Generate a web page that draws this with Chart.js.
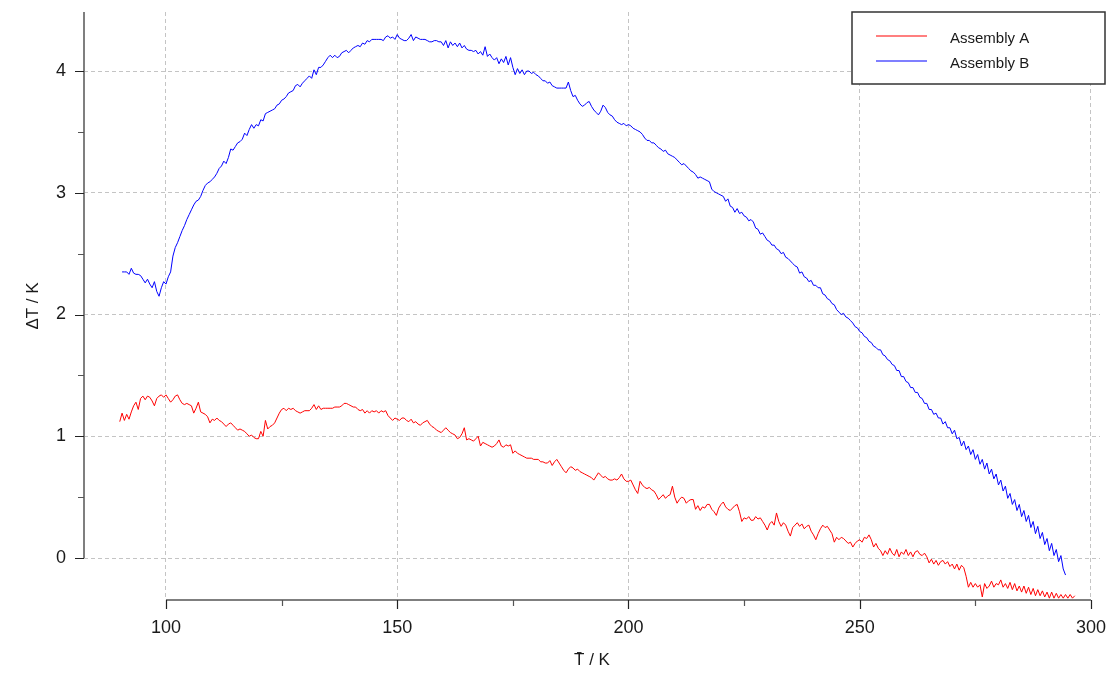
<!DOCTYPE html>
<html>
<head>
<meta charset="utf-8">
<script src="https://cdn.jsdelivr.net/npm/chart.js@4.4.1/dist/chart.umd.min.js"></script>
<style>
  html, body { margin: 0; padding: 0; background: #fff; }
  #wrap { width: 1112px; height: 678px; }
</style>
</head>
<body>
<div id="wrap"><canvas id="dtChart" width="1112" height="678"></canvas></div>
<script>
// series names + colours
const seriesNames = ['Assembly A', 'Assembly B'];
const seriesColors = ['#ff0000', '#0000ff'];

// mean temperature (K) of the first sample in each series, sample spacing 0.5 K
const tempStartA = 90;
const tempStartB = 90.5;
const tempStep = 0.5;

// ΔT (K) of Assembly A
const deltaA = [
  1.12, 1.19, 1.13, 1.18, 1.14, 1.20, 1.25, 1.28, 1.22, 1.31, // 90
  1.33, 1.30, 1.33, 1.32, 1.29, 1.25, 1.31, 1.33, 1.34, 1.32, // 95
  1.34, 1.31, 1.28, 1.30, 1.33, 1.34, 1.30, 1.27, 1.26, 1.27, // 100
  1.26, 1.25, 1.19, 1.23, 1.28, 1.20, 1.19, 1.18, 1.16, 1.11, // 105
  1.14, 1.13, 1.15, 1.13, 1.12, 1.10, 1.08, 1.10, 1.11, 1.09, // 110
  1.07, 1.05, 1.06, 1.05, 1.04, 1.02, 1.00, 1.01, 0.99, 0.98, // 115
  0.98, 1.04, 1.00, 1.13, 1.06, 1.08, 1.09, 1.11, 1.15, 1.19, // 120
  1.22, 1.23, 1.21, 1.23, 1.22, 1.23, 1.21, 1.20, 1.19, 1.20, // 125
  1.21, 1.21, 1.21, 1.23, 1.26, 1.22, 1.25, 1.22, 1.23, 1.23, // 130
  1.23, 1.23, 1.23, 1.24, 1.24, 1.24, 1.25, 1.27, 1.27, 1.26, // 135
  1.25, 1.24, 1.24, 1.22, 1.21, 1.22, 1.19, 1.21, 1.19, 1.21, // 140
  1.20, 1.21, 1.19, 1.21, 1.20, 1.21, 1.17, 1.15, 1.13, 1.15, // 145
  1.14, 1.13, 1.15, 1.15, 1.13, 1.12, 1.14, 1.11, 1.12, 1.10, // 150
  1.09, 1.11, 1.12, 1.13, 1.10, 1.08, 1.07, 1.05, 1.04, 1.03, // 155
  1.05, 1.07, 1.05, 1.03, 1.02, 1.01, 0.98, 0.99, 1.02, 1.07, // 160
  0.97, 0.98, 0.97, 0.96, 0.98, 1.00, 0.92, 0.95, 0.94, 0.93, // 165
  0.92, 0.91, 0.92, 0.94, 0.97, 0.92, 0.91, 0.93, 0.92, 0.93, // 170
  0.86, 0.88, 0.86, 0.85, 0.84, 0.83, 0.82, 0.82, 0.82, 0.81, // 175
  0.81, 0.81, 0.79, 0.79, 0.78, 0.78, 0.80, 0.76, 0.79, 0.81, // 180
  0.78, 0.75, 0.72, 0.70, 0.73, 0.75, 0.74, 0.72, 0.73, 0.71, // 185
  0.70, 0.69, 0.68, 0.67, 0.66, 0.64, 0.67, 0.70, 0.68, 0.66, // 190
  0.67, 0.65, 0.64, 0.64, 0.65, 0.64, 0.66, 0.69, 0.65, 0.63, // 195
  0.63, 0.64, 0.60, 0.56, 0.53, 0.63, 0.60, 0.58, 0.57, 0.58, // 200
  0.56, 0.55, 0.52, 0.48, 0.50, 0.52, 0.49, 0.51, 0.52, 0.59, // 205
  0.50, 0.45, 0.48, 0.50, 0.49, 0.45, 0.47, 0.48, 0.48, 0.40, // 210
  0.43, 0.39, 0.42, 0.41, 0.44, 0.44, 0.40, 0.38, 0.35, 0.41, // 215
  0.44, 0.46, 0.42, 0.40, 0.39, 0.41, 0.43, 0.44, 0.38, 0.30, // 220
  0.33, 0.32, 0.34, 0.31, 0.31, 0.34, 0.32, 0.33, 0.30, 0.27, // 225
  0.23, 0.28, 0.30, 0.27, 0.37, 0.30, 0.26, 0.29, 0.27, 0.22, // 230
  0.18, 0.25, 0.27, 0.29, 0.26, 0.28, 0.24, 0.26, 0.27, 0.22, // 235
  0.19, 0.15, 0.20, 0.24, 0.27, 0.25, 0.26, 0.23, 0.20, 0.13, // 240
  0.17, 0.15, 0.17, 0.16, 0.14, 0.12, 0.13, 0.09, 0.12, 0.14, // 245
  0.15, 0.13, 0.17, 0.16, 0.19, 0.15, 0.09, 0.12, 0.08, 0.06, // 250
  0.02, 0.06, 0.03, 0.08, 0.04, 0.02, 0.07, 0.01, 0.05, 0.03, // 255
  0.07, 0.02, 0.05, 0.01, 0.05, 0.06, 0.03, 0.02, 0.04, 0.01, // 260
  -0.04, -0.01, -0.05, -0.02, -0.06, -0.03, -0.02, -0.05, -0.03, -0.07, // 265
  -0.05, -0.09, -0.05, -0.10, -0.06, -0.08, -0.15, -0.24, -0.20, -0.24, // 270
  -0.21, -0.24, -0.22, -0.32, -0.21, -0.25, -0.23, -0.19, -0.24, -0.21, // 275
  -0.22, -0.18, -0.24, -0.21, -0.25, -0.20, -0.26, -0.21, -0.27, -0.23, // 280
  -0.28, -0.23, -0.29, -0.24, -0.30, -0.25, -0.31, -0.26, -0.31, -0.27, // 285
  -0.32, -0.28, -0.33, -0.28, -0.33, -0.29, -0.33, -0.30, -0.33, -0.30, // 290
  -0.33, -0.30, -0.33, -0.31 // 295
];

// ΔT (K) of Assembly B
const deltaB = [
  2.35, 2.35, 2.35, 2.33, 2.38, 2.34, 2.33, 2.33, 2.32, 2.29, // 90.5
  2.26, 2.29, 2.25, 2.22, 2.27, 2.19, 2.15, 2.22, 2.27, 2.25, // 95.5
  2.31, 2.35, 2.48, 2.55, 2.59, 2.64, 2.69, 2.73, 2.78, 2.82, // 100.5
  2.86, 2.90, 2.93, 2.94, 2.97, 3.02, 3.06, 3.08, 3.09, 3.11, // 105.5
  3.13, 3.16, 3.20, 3.22, 3.26, 3.24, 3.29, 3.36, 3.35, 3.38, // 110.5
  3.41, 3.42, 3.44, 3.49, 3.47, 3.52, 3.56, 3.53, 3.56, 3.55, // 115.5
  3.60, 3.59, 3.65, 3.66, 3.67, 3.68, 3.69, 3.72, 3.73, 3.76, // 120.5
  3.77, 3.79, 3.82, 3.83, 3.84, 3.88, 3.89, 3.87, 3.90, 3.92, // 125.5
  3.94, 3.96, 3.94, 4.01, 3.97, 4.03, 4.03, 4.05, 4.08, 4.11, // 130.5
  4.13, 4.11, 4.13, 4.11, 4.12, 4.15, 4.16, 4.17, 4.15, 4.17, // 135.5
  4.19, 4.20, 4.21, 4.20, 4.23, 4.22, 4.25, 4.24, 4.26, 4.26, // 140.5
  4.26, 4.26, 4.26, 4.25, 4.28, 4.29, 4.27, 4.28, 4.26, 4.30, // 145.5
  4.27, 4.26, 4.25, 4.25, 4.27, 4.30, 4.25, 4.28, 4.27, 4.26, // 150.5
  4.26, 4.26, 4.25, 4.24, 4.24, 4.25, 4.25, 4.24, 4.24, 4.21, // 155.5
  4.25, 4.19, 4.24, 4.21, 4.23, 4.20, 4.23, 4.19, 4.21, 4.18, // 160.5
  4.17, 4.17, 4.16, 4.17, 4.14, 4.16, 4.13, 4.20, 4.12, 4.14, // 165.5
  4.11, 4.09, 4.11, 4.06, 4.10, 4.07, 4.12, 4.05, 4.11, 4.03, // 170.5
  3.97, 4.02, 3.98, 4.01, 3.97, 4.00, 4.00, 3.98, 3.99, 3.97, // 175.5
  3.96, 3.94, 3.92, 3.92, 3.90, 3.91, 3.88, 3.87, 3.86, 3.86, // 180.5
  3.86, 3.86, 3.86, 3.91, 3.84, 3.79, 3.80, 3.76, 3.73, 3.71, // 185.5
  3.72, 3.74, 3.75, 3.71, 3.68, 3.66, 3.64, 3.67, 3.72, 3.70, // 190.5
  3.66, 3.64, 3.63, 3.60, 3.58, 3.57, 3.56, 3.57, 3.55, 3.56, // 195.5
  3.55, 3.53, 3.52, 3.51, 3.50, 3.48, 3.45, 3.43, 3.43, 3.41, // 200.5
  3.41, 3.39, 3.37, 3.36, 3.34, 3.35, 3.32, 3.31, 3.30, 3.29, // 205.5
  3.27, 3.25, 3.23, 3.24, 3.22, 3.20, 3.18, 3.17, 3.15, 3.12, // 210.5
  3.13, 3.12, 3.11, 3.10, 3.09, 3.03, 3.01, 3.00, 2.99, 2.98, // 215.5
  2.97, 2.93, 2.95, 2.89, 2.88, 2.84, 2.87, 2.83, 2.84, 2.81, // 220.5
  2.80, 2.77, 2.78, 2.76, 2.71, 2.70, 2.66, 2.67, 2.64, 2.61, // 225.5
  2.60, 2.57, 2.57, 2.54, 2.53, 2.50, 2.51, 2.47, 2.46, 2.44, // 230.5
  2.42, 2.40, 2.39, 2.34, 2.35, 2.31, 2.30, 2.27, 2.28, 2.24, // 235.5
  2.24, 2.22, 2.22, 2.17, 2.16, 2.13, 2.12, 2.09, 2.08, 2.04, // 240.5
  2.02, 2.00, 2.01, 1.98, 1.97, 1.95, 1.93, 1.90, 1.89, 1.86, // 245.5
  1.85, 1.82, 1.81, 1.78, 1.77, 1.74, 1.73, 1.71, 1.71, 1.67, // 250.5
  1.66, 1.63, 1.62, 1.59, 1.58, 1.54, 1.54, 1.49, 1.49, 1.45, // 255.5
  1.44, 1.40, 1.40, 1.36, 1.36, 1.32, 1.31, 1.27, 1.27, 1.22, // 260.5
  1.22, 1.18, 1.19, 1.15, 1.15, 1.10, 1.12, 1.07, 1.07, 1.02, // 265.5
  1.05, 0.98, 0.99, 0.92, 0.96, 0.89, 0.92, 0.85, 0.89, 0.81, // 270.5
  0.85, 0.77, 0.81, 0.73, 0.78, 0.69, 0.73, 0.65, 0.69, 0.60, // 275.5
  0.64, 0.55, 0.59, 0.49, 0.53, 0.44, 0.48, 0.39, 0.44, 0.34, // 280.5
  0.39, 0.30, 0.35, 0.25, 0.30, 0.20, 0.26, 0.16, 0.21, 0.11, // 285.5
  0.16, 0.06, 0.12, 0.02, 0.07, -0.03, 0.02, -0.09, -0.14 // 290.5
];

// axis ranges and minor ticks
const xRange = [82.27, 301.95];
const yRange = [-0.345, 4.485];
const xMinorTicks = [125, 175, 225, 275];
const yMinorTicks = [0.5, 1.5, 2.5, 3.5];

const toPoints = (start, values) => values.map((v, i) => ({ x: start + i * tempStep, y: v }));

const textColor = '#1a1a1a';
const fontFamily = '"Liberation Sans", Arial, sans-serif';

// axis lines, tick marks and the boxed legend
const frameAndLegend = {
  id: 'frameAndLegend',
  afterDatasetsDraw(chart) {
    const ctx = chart.ctx;
    const xs = chart.scales.x;
    const ys = chart.scales.y;
    const area = chart.chartArea;
    ctx.save();

    // axis lines
    ctx.strokeStyle = '#7f7f7f';
    ctx.lineWidth = 2;
    ctx.beginPath();
    ctx.moveTo(area.left, area.top);
    ctx.lineTo(area.left, ys.getPixelForValue(0));
    ctx.moveTo(xs.getPixelForValue(100), area.bottom);
    ctx.lineTo(xs.getPixelForValue(300), area.bottom);
    ctx.stroke();

    // ticks
    ctx.lineWidth = 1.2;
    ctx.strokeStyle = '#222';
    ctx.beginPath();
    ys.ticks.forEach(t => {
      const p = Math.round(ys.getPixelForValue(t.value)) + 0.5;
      ctx.moveTo(area.left - 9, p);
      ctx.lineTo(area.left, p);
    });
    xs.ticks.forEach(t => {
      const p = Math.round(xs.getPixelForValue(t.value)) + 0.5;
      ctx.moveTo(p, area.bottom);
      ctx.lineTo(p, area.bottom + 9);
    });
    ctx.stroke();
    ctx.strokeStyle = '#555';
    ctx.beginPath();
    yMinorTicks.forEach(v => {
      const p = Math.round(ys.getPixelForValue(v)) + 0.5;
      ctx.moveTo(area.left - 6, p);
      ctx.lineTo(area.left, p);
    });
    xMinorTicks.forEach(v => {
      const p = Math.round(xs.getPixelForValue(v)) + 0.5;
      ctx.moveTo(p, area.bottom);
      ctx.lineTo(p, area.bottom + 6);
    });
    ctx.stroke();

    // legend box
    const box = { left: 852, top: 12, width: 253, height: 72 };
    ctx.fillStyle = '#fff';
    ctx.fillRect(box.left, box.top, box.width, box.height);
    ctx.strokeStyle = '#333';
    ctx.lineWidth = 1.5;
    ctx.strokeRect(box.left, box.top, box.width, box.height);
    ctx.font = '15px ' + fontFamily;
    ctx.textBaseline = 'middle';
    ctx.textAlign = 'left';
    seriesNames.forEach((name, i) => {
      const rowY = box.top + 24 + i * 25;
      ctx.strokeStyle = seriesColors[i];
      ctx.lineWidth = 1.2;
      ctx.beginPath();
      ctx.moveTo(876, rowY);
      ctx.lineTo(927, rowY);
      ctx.stroke();
      ctx.fillStyle = textColor;
      ctx.fillText(name, 950, rowY + 3);
    });
    ctx.restore();
  }
};

const dtCanvas = document.getElementById('dtChart');
new Chart(dtCanvas, {
  type: 'line',
  data: {
    datasets: [
      {
        label: seriesNames[0],
        data: toPoints(tempStartA, deltaA),
        borderColor: seriesColors[0],
        borderWidth: 1,
        pointRadius: 0,
        tension: 0,
        fill: false
      },
      {
        label: seriesNames[1],
        data: toPoints(tempStartB, deltaB),
        borderColor: seriesColors[1],
        borderWidth: 1,
        pointRadius: 0,
        tension: 0,
        fill: false
      }
    ]
  },
  options: {
    responsive: false,
    animation: false,
    events: [],
    layout: { padding: { top: 12, right: 12, left: 0, bottom: 0 } },
    plugins: {
      legend: { display: false },
      tooltip: { enabled: false }
    },
    scales: {
      x: {
        type: 'linear',
        min: xRange[0],
        max: xRange[1],
        afterFit(scale) {
          scale.height = 78;
          scale.paddingLeft = 0;
          scale.paddingRight = 0;
        },
        ticks: {
          stepSize: 50,
          includeBounds: false,
          maxRotation: 0,
          autoSkip: false,
          padding: 17,
          color: textColor,
          font: { size: 18, family: fontFamily }
        },
        grid: { color: '#c4c4c4', lineWidth: 1, drawTicks: false },
        border: { display: false, dash: [4, 3] },
        title: {
          display: true,
          text: 'T\u0304 / K',
          color: textColor,
          font: { size: 17, family: fontFamily },
          padding: { top: 0, bottom: 7 }
        }
      },
      y: {
        type: 'linear',
        min: yRange[0],
        max: yRange[1],
        afterFit(scale) {
          scale.width = 84;
          scale.paddingTop = 0;
          scale.paddingBottom = 0;
        },
        ticks: {
          stepSize: 1,
          includeBounds: false,
          padding: 18,
          color: textColor,
          font: { size: 18, family: fontFamily }
        },
        grid: { color: '#c4c4c4', lineWidth: 1, drawTicks: false },
        border: { display: false, dash: [4, 3] },
        title: {
          display: true,
          text: '\u0394T / K',
          color: textColor,
          font: { size: 17, family: fontFamily },
          padding: { top: 23, bottom: 0 }
        }
      }
    }
  },
  plugins: [frameAndLegend]
});
</script>
</body>
</html>
